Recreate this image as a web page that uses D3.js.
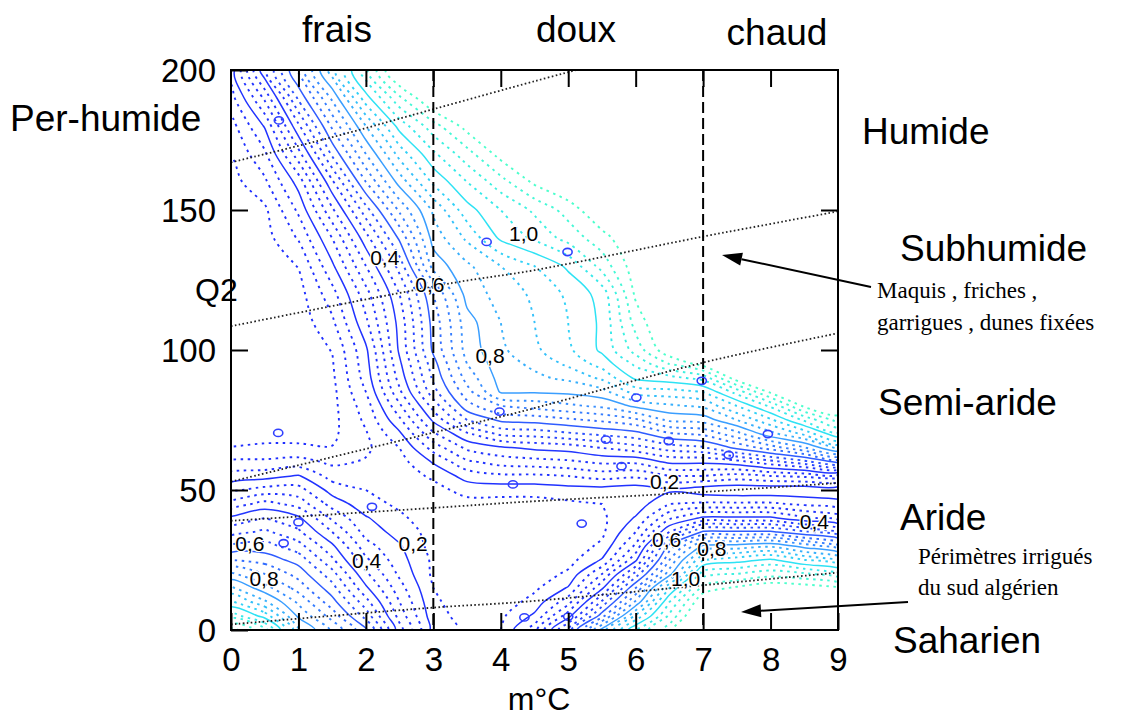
<!DOCTYPE html>
<html>
<head>
<meta charset="utf-8">
<script src="https://cdn.jsdelivr.net/npm/d3@7"></script>
<style>
  body { margin: 0; background: #fff; }
  svg { display: block; }
</style>
</head>
<body>
<svg id="chart" width="1125" height="718"></svg>
<script>
// ---- Axes ----
const xTicks = [0, 1, 2, 3, 4, 5, 6, 7, 8, 9];
const yTicks = [0, 50, 100, 150, 200];
const thermalBounds = [3, 7];               // frais | doux | chaud
const thermalNames = ["frais", "doux", "chaud"];

// ---- Sampled field (m°C columns x Q2 rows, rows listed from Q2 = 0 upward) ----
const gridX = [0, 0.5, 1, 1.5, 2, 2.5, 3, 3.5, 4, 4.5, 5, 5.5, 6, 6.5, 7, 7.5, 8, 8.5, 9];
const gridQ = [0, 5, 10, 15, 20, 25, 30, 35, 40, 45, 50, 55, 60, 65, 70, 75, 80, 85, 90, 95,
               100, 110, 120, 130, 140, 150, 160, 170, 180, 190, 200];
const gridRows = [
  [1.22,1.12,0.86,0.74,0.61,0.37,0.18,0.14,0.15,0.28,0.52,0.82,1.05,1.18,1.35,1.40,1.42,1.42,1.42],
  [1.08,0.98,0.79,0.68,0.53,0.33,0.17,0.13,0.14,0.21,0.38,0.63,0.91,1.11,1.30,1.35,1.38,1.38,1.37],
  [0.96,0.86,0.74,0.62,0.47,0.30,0.16,0.12,0.12,0.17,0.28,0.51,0.76,1.05,1.25,1.30,1.32,1.32,1.30],
  [0.86,0.77,0.68,0.57,0.41,0.27,0.15,0.12,0.11,0.14,0.205,0.39,0.65,0.95,1.17,1.21,1.24,1.23,1.21],
  [0.76,0.70,0.63,0.52,0.36,0.24,0.14,0.11,0.11,0.12,0.16,0.30,0.52,0.78,1.08,1.10,1.13,1.11,1.07],
  [0.65,0.63,0.58,0.46,0.31,0.22,0.14,0.11,0.11,0.11,0.13,0.205,0.39,0.70,0.95,0.98,1.01,0.95,0.91],
  [0.56,0.57,0.52,0.41,0.27,0.205,0.13,0.11,0.11,0.11,0.12,0.16,0.31,0.62,0.81,0.82,0.84,0.78,0.72],
  [0.48,0.51,0.46,0.35,0.23,0.18,0.13,0.11,0.11,0.11,0.11,0.14,0.25,0.45,0.61,0.61,0.61,0.56,0.51],
  [0.41,0.45,0.41,0.29,0.205,0.16,0.12,0.12,0.11,0.11,0.12,0.14,0.205,0.34,0.41,0.41,0.41,0.36,0.33],
  [0.32,0.37,0.33,0.23,0.17,0.14,0.12,0.13,0.13,0.13,0.14,0.15,0.17,0.25,0.26,0.26,0.26,0.24,0.22],
  [0.24,0.27,0.27,0.18,0.15,0.13,0.13,0.17,0.17,0.17,0.18,0.18,0.17,0.19,0.17,0.16,0.16,0.16,0.16],
  [0.17,0.18,0.205,0.13,0.12,0.12,0.16,0.22,0.24,0.24,0.25,0.27,0.26,0.30,0.30,0.28,0.30,0.31,0.33],
  [0.11,0.11,0.12,0.09,0.105,0.13,0.205,0.29,0.32,0.33,0.34,0.36,0.36,0.41,0.41,0.43,0.48,0.53,0.61],
  [0.052,0.06,0.06,0.052,0.09,0.15,0.27,0.36,0.39,0.41,0.42,0.45,0.48,0.52,0.54,0.61,0.67,0.74,0.86],
  [0.03,0.03,0.03,0.04,0.095,0.19,0.34,0.44,0.51,0.52,0.54,0.56,0.58,0.64,0.66,0.73,0.83,0.91,1.04],
  [0.02,0.02,0.02,0.035,0.11,0.24,0.41,0.55,0.61,0.62,0.64,0.66,0.69,0.76,0.77,0.85,0.94,1.06,1.17],
  [0.02,0.02,0.02,0.035,0.125,0.29,0.47,0.63,0.70,0.72,0.74,0.76,0.81,0.84,0.86,0.95,1.06,1.21,1.26],
  [0.02,0.02,0.02,0.035,0.15,0.34,0.53,0.68,0.805,0.805,0.81,0.83,0.92,0.93,0.95,1.07,1.21,1.28,1.30],
  [0.02,0.02,0.02,0.04,0.17,0.37,0.56,0.72,0.82,0.84,0.86,0.91,1.01,1.03,1.07,1.23,1.27,1.30,1.32],
  [0.02,0.02,0.02,0.045,0.18,0.39,0.58,0.75,0.83,0.86,0.91,0.97,1.06,1.15,1.22,1.28,1.30,1.32,1.33],
  [0.02,0.02,0.02,0.052,0.19,0.41,0.61,0.77,0.84,0.89,0.94,1.01,1.12,1.24,1.28,1.32,1.33,1.34,1.35],
  [0.02,0.02,0.02,0.09,0.24,0.42,0.62,0.78,0.85,0.90,0.95,1.01,1.17,1.27,1.31,1.33,1.34,1.35,1.36],
  [0.02,0.02,0.03,0.13,0.28,0.45,0.65,0.82,0.87,0.91,0.96,1.02,1.21,1.28,1.32,1.33,1.34,1.35,1.36],
  [0.02,0.02,0.052,0.19,0.35,0.52,0.77,0.84,0.90,0.95,1.01,1.12,1.23,1.30,1.32,1.33,1.34,1.35,1.36],
  [0.02,0.03,0.105,0.25,0.43,0.61,0.82,0.91,1.01,1.06,1.12,1.18,1.25,1.30,1.32,1.33,1.34,1.35,1.36],
  [0.02,0.04,0.16,0.34,0.53,0.71,0.86,0.98,1.05,1.11,1.17,1.25,1.30,1.32,1.33,1.34,1.35,1.36,1.36],
  [0.03,0.09,0.22,0.44,0.65,0.82,0.96,1.05,1.13,1.21,1.26,1.30,1.32,1.33,1.34,1.35,1.36,1.36,1.36],
  [0.052,0.14,0.33,0.56,0.75,0.92,1.04,1.13,1.22,1.28,1.32,1.33,1.34,1.35,1.36,1.36,1.36,1.36,1.36],
  [0.08,0.205,0.44,0.66,0.85,1.02,1.13,1.22,1.28,1.32,1.33,1.34,1.35,1.36,1.36,1.36,1.36,1.36,1.36],
  [0.13,0.31,0.56,0.76,0.98,1.14,1.26,1.32,1.34,1.35,1.36,1.36,1.36,1.36,1.36,1.36,1.36,1.36,1.36],
  [0.17,0.44,0.66,0.88,1.09,1.28,1.35,1.36,1.36,1.36,1.36,1.36,1.36,1.36,1.36,1.36,1.36,1.36,1.36]
];

// ---- Contour levels ----
const levels = [0.05, 0.1, 0.15, 0.2, 0.25, 0.3, 0.35, 0.4, 0.45, 0.5, 0.55, 0.6,
                0.65, 0.7, 0.75, 0.8, 0.85, 0.9, 0.95, 1.0, 1.05, 1.1, 1.15, 1.2];
const solidLevels = [0.2, 0.4, 0.6, 0.8, 1.0];

// Labelled contours: level, m°C, Q2
const contourLabels = [
  { v: 0.4, x: 2.28, q: 133 }, { v: 0.6, x: 2.95, q: 123.5 }, { v: 1.0, x: 4.34, q: 141.5 },
  { v: 0.8, x: 3.84, q: 98 },  { v: 0.2, x: 6.43, q: 53 },
  { v: 0.6, x: 0.28, q: 31 },  { v: 0.8, x: 0.49, q: 18.5 }, { v: 0.4, x: 2.01, q: 25 },
  { v: 0.2, x: 2.70, q: 31 },  { v: 0.6, x: 6.46, q: 32.5 }, { v: 0.8, x: 7.13, q: 29 },
  { v: 1.0, x: 6.74, q: 18.5 }, { v: 0.4, x: 8.65, q: 38.6 }
];

// Stations (m°C, Q2)
const stations = [
  [0.71, 182], [3.79, 138.6], [4.99, 135], [6.98, 89], [6.01, 83], [3.98, 78],
  [0.70, 70.4], [5.56, 68], [6.49, 67.5], [5.79, 58.5], [4.18, 52], [7.38, 62.5],
  [7.96, 70], [2.09, 44], [1.0, 38.5], [0.78, 31], [5.2, 38], [4.35, 4.5], [5.0, 4.8]
];

// Bioclimatic stage boundaries (m°C, Q2)
const stageBounds = [
  [[0, 167], [1.5, 176], [3, 186], [4.5, 196], [5.2, 200.5]],
  [[0, 108.5], [3.3, 124], [4.5, 128.5], [7, 140.5], [9, 149.5]],
  [[0, 53], [3, 70.5], [4.3, 78], [7, 95.5], [9, 106]],
  [[0, 39], [3, 43.6], [4.3, 45.7], [7, 49.3], [9, 52.5]],
  [[0, 2], [3, 8], [4.3, 10], [7, 16], [9, 20.5]]
];
const stageNames = [
  { t: "Per-humide", x: 10, y: 131 }, { t: "Humide", x: 862, y: 144 },
  { t: "Subhumide", x: 900, y: 261 }, { t: "Semi-aride", x: 878, y: 415 },
  { t: "Aride", x: 900, y: 530 }, { t: "Saharien", x: 893, y: 653 }
];

// ---- Layout ----
const svg = d3.select("#chart");
const x = d3.scaleLinear().domain([0, 9]).range([231, 838]);
const y = d3.scaleLinear().domain([0, 200]).range([630, 70]);
const sans = "'Liberation Sans', Arial, sans-serif";
const serif = "'Liberation Serif', 'Times New Roman', serif";

svg.append("defs").append("clipPath").attr("id", "plot")
  .append("rect").attr("x", x(0)).attr("y", y(200))
  .attr("width", x(9) - x(0)).attr("height", y(0) - y(200));

// Colour ramp: blue for low values through cyan to aquamarine
const levelColor = d3.scaleLinear()
  .domain([0.05, 0.45, 0.6, 0.8, 1.0, 1.2])
  .range(["#1e2eff", "#2438ff", "#2f5cff", "#3a9eff", "#2ee2f4", "#4dffcc"]);

// ---- Contours ----
const nx = gridX.length, ny = gridQ.length;
const gx = d3.scaleLinear().domain(d3.range(nx)).range(gridX);
const gy = d3.scaleLinear().domain(d3.range(ny)).range(gridQ);
const polys = d3.contours().size([nx, ny]).thresholds(levels).smooth(true)(gridRows.flat());

const ringLine = d3.line()
  .x(p => x(gx(p[0] - 0.5)))
  .y(p => y(gy(p[1] - 0.5)))
  .curve(d3.curveCatmullRomClosed.alpha(0.5));

const isSolid = v => solidLevels.some(s => Math.abs(s - v) < 1e-6);
const cg = svg.append("g").attr("clip-path", "url(#plot)").attr("fill", "none");

function drawLevels(solid) {
  polys.filter(mp => isSolid(mp.value) === solid).forEach(mp => {
    mp.coordinates.forEach(poly => poly.forEach(ring => {
      let pts = ring.slice();
      const a = pts[0], b = pts[pts.length - 1];
      if (pts.length > 1 && a[0] === b[0] && a[1] === b[1]) pts.pop();
      if (pts.length < 3) return;
      cg.append("path")
        .attr("d", ringLine(pts))
        .attr("stroke", levelColor(mp.value))
        .attr("stroke-width", solid ? 1.5 : 1.9)
        .attr("stroke-dasharray", solid ? null : "2.5 4.5");
    }));
  });
}
drawLevels(false);
drawLevels(true);

// ---- Stage boundaries (dotted) ----
const boundLine = d3.line().x(d => x(d[0])).y(d => y(d[1])).curve(d3.curveCatmullRom);
const bg = svg.append("g").attr("clip-path", "url(#plot)");
stageBounds.forEach(b => {
  bg.append("path").attr("d", boundLine(b)).attr("fill", "none")
    .attr("stroke", "#222").attr("stroke-width", 1.8).attr("stroke-dasharray", "1.6 2.4");
});

// ---- Thermal limits (dashed verticals) ----
thermalBounds.forEach(m => {
  svg.append("line").attr("x1", x(m)).attr("x2", x(m)).attr("y1", y(200)).attr("y2", y(0))
    .attr("stroke", "#000").attr("stroke-width", 2).attr("stroke-dasharray", "11 5");
});

// ---- Stations ----
svg.append("g").selectAll("ellipse").data(stations).join("ellipse")
  .attr("cx", d => x(d[0])).attr("cy", d => y(d[1]))
  .attr("rx", 4.6).attr("ry", 3.6)
  .attr("fill", "none").attr("stroke", "#3040ff").attr("stroke-width", 1.6);

// ---- Contour labels ----
const fmt = v => d3.format(".1f")(v).replace(".", ",");
svg.append("g").selectAll("text").data(contourLabels).join("text")
  .attr("x", d => x(d.x)).attr("y", d => y(d.q))
  .attr("dy", "0.36em").attr("text-anchor", "middle")
  .attr("font-family", sans).attr("font-size", 21)
  .attr("fill", "#000").attr("stroke", "#fff").attr("stroke-width", 2.5)
  .attr("paint-order", "stroke")
  .text(d => fmt(d.v));

// ---- Axis label Q2 (sits under the frame) ----
svg.append("text").attr("x", 195).attr("y", 301)
  .attr("font-family", sans).attr("font-size", 32).text("Q2");

// ---- Axes with inward ticks ----
function styleAxis(g) {
  g.select(".domain").remove();
  g.selectAll(".tick line").attr("stroke", "#000").attr("stroke-width", 2);
  g.selectAll(".tick text").attr("font-family", sans).attr("font-size", 33).attr("fill", "#000");
}
svg.append("g").attr("transform", `translate(0,${y(0)})`)
  .call(d3.axisBottom(x).tickValues(xTicks).tickSizeInner(-17).tickSizeOuter(0).tickPadding(0))
  .call(styleAxis)
  .call(g => g.selectAll(".tick text").attr("y", 41).attr("dy", 0));
svg.append("g").attr("transform", `translate(0,${y(200)})`)
  .call(d3.axisTop(x).tickValues(xTicks.slice(1, -1)).tickSizeInner(-17).tickSizeOuter(0).tickFormat(""))
  .call(styleAxis);
svg.append("g").attr("transform", `translate(${x(0)},0)`)
  .call(d3.axisLeft(y).tickValues(yTicks).tickSizeInner(-17).tickSizeOuter(0).tickPadding(15))
  .call(styleAxis)
  .call(g => g.selectAll(".tick text").attr("x", -15).attr("dy", "0.36em"));
svg.append("g").attr("transform", `translate(${x(9)},0)`)
  .call(d3.axisRight(y).tickValues(yTicks.slice(1, -1)).tickSizeInner(-17).tickSizeOuter(0).tickFormat(""))
  .call(styleAxis);

// Frame
svg.append("rect").attr("x", x(0)).attr("y", y(200))
  .attr("width", x(9) - x(0)).attr("height", y(0) - y(200))
  .attr("fill", "none").attr("stroke", "#000").attr("stroke-width", 2);

svg.append("text").attr("x", 539).attr("y", 710).attr("text-anchor", "middle")
  .attr("font-family", sans).attr("font-size", 32).text("m°C");

// ---- Thermal variant names ----
const thermalPos = [{ x: 337, y: 42 }, { x: 576, y: 42 }, { x: 777, y: 45 }];
thermalNames.forEach((t, i) => {
  svg.append("text").attr("x", thermalPos[i].x).attr("y", thermalPos[i].y)
    .attr("text-anchor", "middle").attr("font-family", sans).attr("font-size", 37).text(t);
});

// ---- Stage names ----
stageNames.forEach(s => {
  svg.append("text").attr("x", s.x).attr("y", s.y)
    .attr("font-family", sans).attr("font-size", 37).text(s.t);
});

// ---- Annotations ----
const notes = [
  { lines: ["Maquis , friches ,", "garrigues , dunes fixées"], x: 877, y: [298, 330] },
  { lines: ["Périmètres irrigués", "du sud algérien"], x: 918, y: [564, 595] }
];
notes.forEach(n => n.lines.forEach((t, i) => {
  svg.append("text").attr("x", n.x).attr("y", n.y[i])
    .attr("font-family", serif).attr("font-size", 23).attr("fill", "#000").text(t);
}));

const arrows = [
  { from: [871, 287], to: [722, 255] },
  { from: [908, 602], to: [741, 612] }
];
arrows.forEach(a => {
  const [x0, y0] = a.from, [x1, y1] = a.to;
  const ang = Math.atan2(y1 - y0, x1 - x0);
  const len = 20, half = 6.5;
  const bx = x1 - len * Math.cos(ang), by = y1 - len * Math.sin(ang);
  svg.append("line").attr("x1", x0).attr("y1", y0).attr("x2", bx).attr("y2", by)
    .attr("stroke", "#000").attr("stroke-width", 2);
  svg.append("path")
    .attr("d", `M${x1},${y1}L${bx - half * Math.sin(ang)},${by + half * Math.cos(ang)}` +
               `L${bx + half * Math.sin(ang)},${by - half * Math.cos(ang)}Z`)
    .attr("fill", "#000");
});
</script>
</body>
</html>
